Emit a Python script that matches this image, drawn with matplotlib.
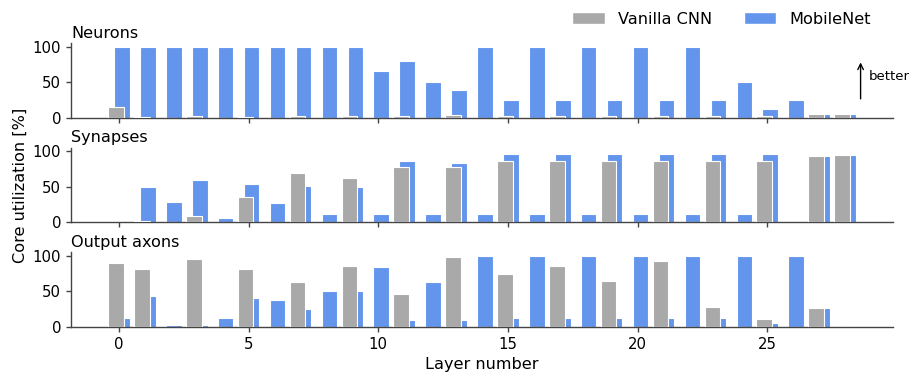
import matplotlib
matplotlib.use("Agg")
import matplotlib.pyplot as plt
import numpy as np
from matplotlib.patches import Patch

layers = list(range(29))

neurons_vanilla = [16, 1.5, 0, 3, 0, 2, 0, 3, 0, 3, 0, 3, 0, 4, 0, 3, 0, 3, 0, 3,
                   0, 3, 0, 3, 0, 3, 0, 6, 5]
neurons_mobilenet = [100, 100, 100, 100, 100, 100, 100, 100, 100, 100, 66, 80, 50, 40,
                     100, 25, 100, 25, 100, 25, 100, 25, 100, 25, 50, 12, 25, 6, 5]

synapses_vanilla = [0, 1.5, 0, 9, 0, 35, 0, 70, 0, 63, 0, 78, 0, 78, 0, 86, 0, 86, 0, 86,
                    0, 86, 0, 86, 0, 86, 0, 93, 95]
synapses_mobilenet = [0, 50, 28, 59, 6, 54, 27, 51, 12, 50, 11, 86, 12, 83, 12, 96, 12, 96,
                      12, 96, 12, 96, 12, 96, 12, 96, 1.5, 93, 95]

axons_vanilla = [90, 82, 0, 95, 0, 81, 0, 63, 0, 86, 0, 46, 0, 98, 0, 74, 0, 86, 0, 65,
                 0, 93, 0, 28, 0, 11, 0, 27, 0]
axons_mobilenet = [13, 44, 3, 3, 13, 41, 38, 25, 50, 50, 84, 10, 63, 10, 100, 13, 100, 13,
                   100, 13, 100, 13, 100, 13, 100, 6, 100, 27, 0]

panel_titles = ["Neurons", "Synapses", "Output axons"]
series_names = ["Vanilla CNN", "MobileNet"]
xticks = [0, 5, 10, 15, 20, 25]
yticks = [0, 50, 100]

GRAY = "#a9a9a9"
BLUE = "#6495ed"
SPINE = "#444444"
LABEL_FS = 11.6
TICK_FS = 10.7

W, H = 911, 374
fig = plt.figure(figsize=(W / 100, H / 100), dpi=100)

left = 71 / W
width = (893 - 71) / W
panels_px = [(43.3, 118.0), (147.7, 222.3), (252.3, 327.0)]

data = [(neurons_vanilla, neurons_mobilenet),
        (synapses_vanilla, synapses_mobilenet),
        (axons_vanilla, axons_mobilenet)]

x = np.array(layers)
bw = 0.6
off = 0.115
axes = []
for i, ((top, bot), (van, mob), title) in enumerate(zip(panels_px, data, panel_titles)):
    ax = fig.add_axes([left, 1 - bot / H, width, (bot - top) / H])
    axes.append(ax)
    ax.bar(x + off, mob, width=bw, color=BLUE, edgecolor="white", linewidth=0.8, zorder=2)
    ax.bar(x - off, van, width=bw, color=GRAY, edgecolor="white", linewidth=0.8, zorder=3)
    ax.set_xlim(-1.85, 29.85)
    ax.set_ylim(0, 105)
    ax.set_yticks(yticks)
    ax.set_xticks(xticks)
    for s in ["top", "right"]:
        ax.spines[s].set_visible(False)
    for s in ["left", "bottom"]:
        ax.spines[s].set_color(SPINE)
        ax.spines[s].set_linewidth(1.0)
    ax.tick_params(axis="both", colors=SPINE, labelcolor="black", labelsize=TICK_FS,
                   length=3.5, width=1.0)
    if i < 2:
        ax.tick_params(axis="x", labelbottom=False)
    ax.set_title(title, loc="left", fontsize=LABEL_FS, pad=4)

axes[2].set_xlabel("Layer number", fontsize=LABEL_FS, labelpad=4)
fig.text(20 / W, 1 - 185 / H, "Core utilization [%]", rotation=90, ha="center", va="center",
         fontsize=LABEL_FS)

# "better" annotation
axes[0].annotate("", xy=(28.6, 82), xytext=(28.6, 23),
                 arrowprops=dict(arrowstyle="->", color="black", lw=1.0),
                 annotation_clip=False)
axes[0].text(28.92, 58, "better", fontsize=9.5, ha="left", va="center")

handles = [Patch(facecolor=GRAY, edgecolor="white"), Patch(facecolor=BLUE, edgecolor="white")]
fig.legend(handles, series_names, ncol=2, frameon=False, loc="center right",
           bbox_to_anchor=(885 / W, 1 - 19 / H), fontsize=LABEL_FS)

fig.savefig("out.png", dpi=100)
